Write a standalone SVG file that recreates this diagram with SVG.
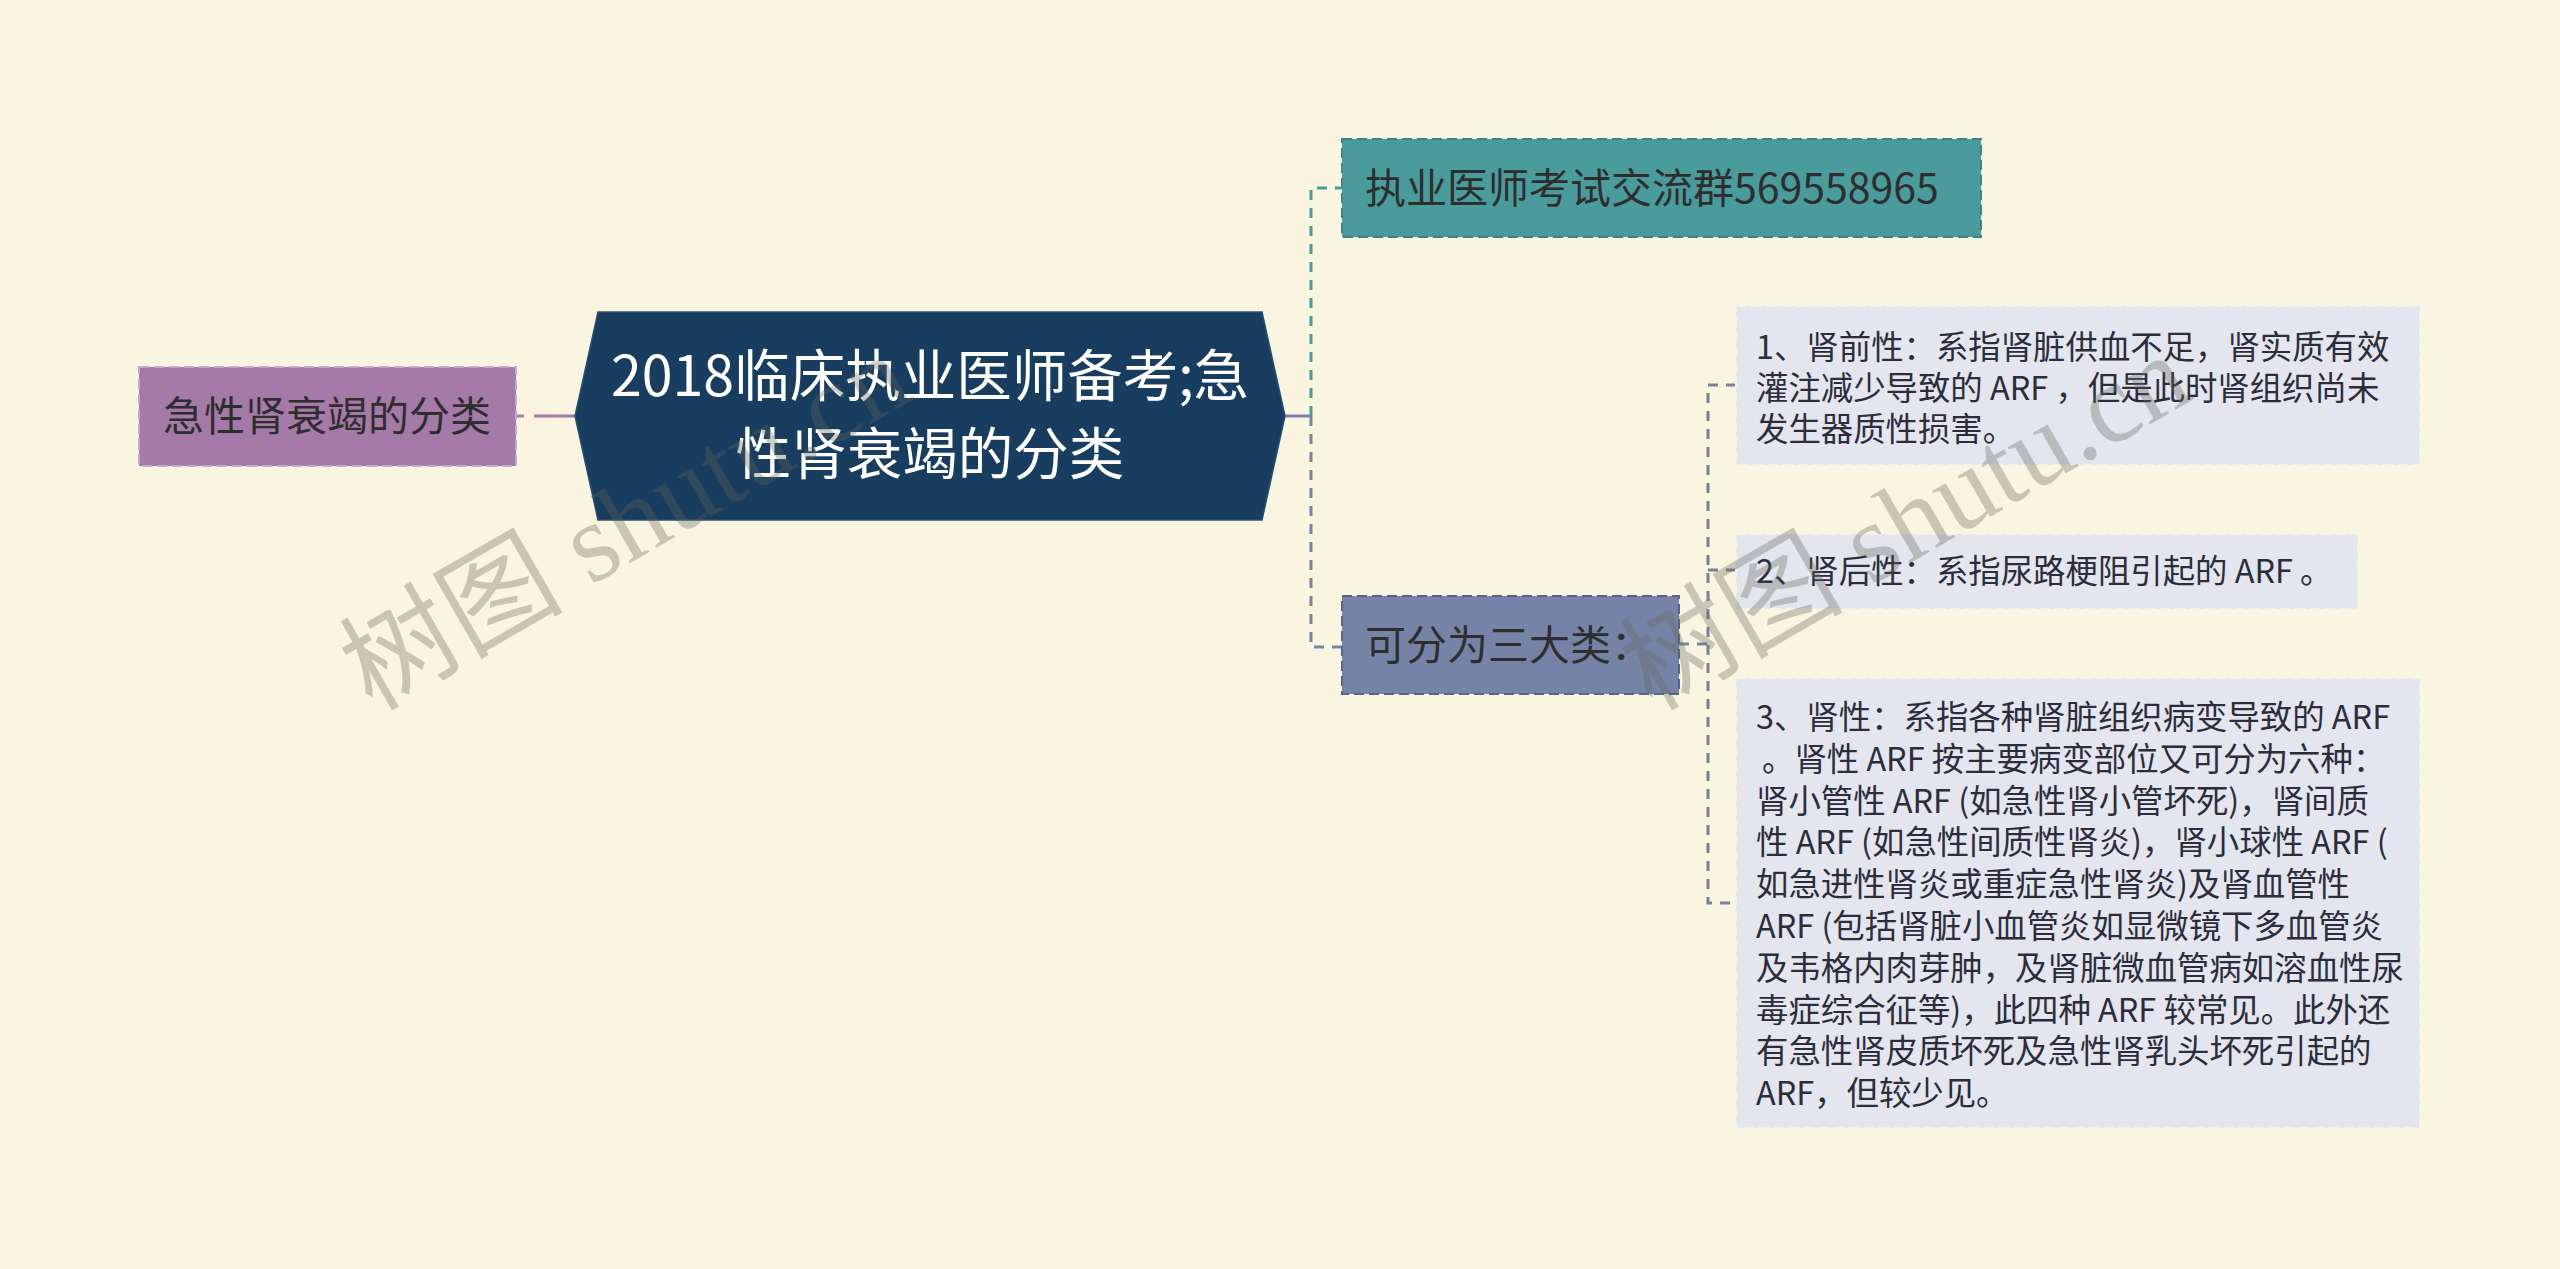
<svg xmlns="http://www.w3.org/2000/svg" width="2560" height="1269" viewBox="0 0 2560 1269">
<defs>
<style>
.bg{fill:#faf5e1}
.t{font-family:"Noto Sans CJK SC","Noto Sans",sans-serif}
.l1{font-size:41px;fill:#2e2e2e}
.l2{font-size:32.4px;fill:#2b2d3a}
.root{font-size:55.5px;fill:#ffffff;text-anchor:middle}
.child{fill:#e3e5ef;stroke:#f4f2ea;stroke-width:2;stroke-dasharray:10 5}
.conn{fill:none;stroke-width:3}
.dash{stroke-dasharray:10 8}
.wm{font-family:"Liberation Serif","Noto Sans CJK SC",serif;font-size:112px;fill:#64645a;fill-opacity:0.33}
</style>
</defs>
<rect class="bg" x="0" y="0" width="2560" height="1269"/>

<g id="connectors">
  <path class="conn" d="M516 416 H524" stroke="#a57aa9"/>
  <path class="conn" d="M534 416 H576" stroke="#a57aa9"/>
  <path class="conn" d="M1285 416 H1311" stroke="#7683a6"/>
  <path class="conn dash" d="M1311 416 V188 H1342" stroke="#4a9b9b"/>
  <path class="conn dash" d="M1311 416 V647 H1342" stroke="#7683a6"/>
  <path class="conn dash" d="M1679 644 H1708" stroke="#7683a6" stroke-width="2"/>
  <path class="conn dash" d="M1736 385 H1708 V903 H1736" stroke="#7a8099" stroke-width="2"/>
  <path class="conn dash" d="M1708 570 H1736" stroke="#7a8099" stroke-width="2"/>
</g>

<g id="node-left">
  <rect x="139" y="367" width="377" height="99" fill="#a57aa9" stroke="#c9a6cb" stroke-width="2" stroke-dasharray="10 5"/>
  <text class="t l1" x="327" y="431" text-anchor="middle" fill="#3a2a3a">急性肾衰竭的分类</text>
</g>

<g id="node-root">
  <polygon points="598,312 1262,312 1285,416 1262,520 598,520 575,416" fill="#183d5e" stroke="#2a5070" stroke-width="1.5"/>
  <text class="t root" x="930" y="396">2018临床执业医师备考;急</text>
  <text class="t root" x="930" y="474">性肾衰竭的分类</text>
</g>

<g id="node-teal">
  <rect x="1342" y="139" width="639" height="98" fill="#4a9b9b" stroke="#3b8384" stroke-width="2" stroke-dasharray="10 5"/>
  <text class="t l1" x="1365" y="203" fill="#2b3838">执业医师考试交流群569558965</text>
</g>

<g id="node-three">
  <rect x="1342" y="596" width="337" height="98" fill="#7683a6" stroke="#58648a" stroke-width="2" stroke-dasharray="10 5"/>
  <text class="t l1" x="1365" y="660">可分为三大类：</text>
</g>

<g id="node-c1">
  <rect class="child" x="1736" y="306" width="684" height="159"/>
  <text class="t l2" x="1756" y="359">1、肾前性：系指肾脏供血不足，肾实质有效</text>
  <text class="t l2" x="1756" y="400">灌注减少导致的 ARF ，但是此时肾组织尚未</text>
  <text class="t l2" x="1756" y="441">发生器质性损害。</text>
</g>

<g id="node-c2">
  <rect class="child" x="1736" y="534" width="622" height="75"/>
  <text class="t l2" x="1756" y="583">2、肾后性：系指尿路梗阻引起的 ARF 。</text>
</g>

<g id="node-c3">
  <rect class="child" x="1736" y="678" width="684" height="450"/>
  <text class="t l2" x="1756" y="729">3、肾性：系指各种肾脏组织病变导致的 ARF</text>
  <text class="t l2" x="1762" y="771">。肾性 ARF 按主要病变部位又可分为六种：</text>
  <text class="t l2" x="1756" y="813">肾小管性 ARF (如急性肾小管坏死)，肾间质</text>
  <text class="t l2" x="1756" y="854">性 ARF (如急性间质性肾炎)，肾小球性 ARF (</text>
  <text class="t l2" x="1756" y="896">如急进性肾炎或重症急性肾炎)及肾血管性</text>
  <text class="t l2" x="1756" y="938">ARF (包括肾脏小血管炎如显微镜下多血管炎</text>
  <text class="t l2" x="1756" y="980">及韦格内肉芽肿，及肾脏微血管病如溶血性尿</text>
  <text class="t l2" x="1756" y="1022">毒症综合征等)，此四种 ARF 较常见。此外还</text>
  <text class="t l2" x="1756" y="1063">有急性肾皮质坏死及急性肾乳头坏死引起的</text>
  <text class="t l2" x="1756" y="1105">ARF，但较少见。</text>
</g>

<g id="watermarks">
  <text class="wm" transform="translate(372,712) rotate(-30)">树图 shutu.cn</text>
  <text class="wm" transform="translate(1652,712) rotate(-30)">树图 shutu.cn</text>
</g>
</svg>
